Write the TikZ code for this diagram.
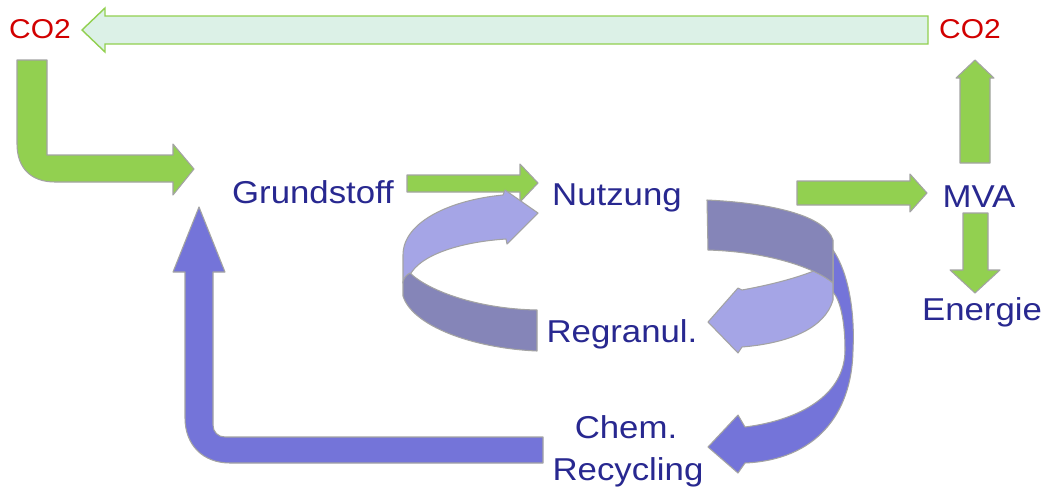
\documentclass[tikz,border=0pt]{standalone}
\usepackage{fontspec}
\setmainfont{Liberation Sans}[FakeStretch=1.1]
\definecolor{txtblue}{HTML}{282890}
\definecolor{co2red}{HTML}{D20000}
\definecolor{arrgreen}{HTML}{92D050}
\definecolor{mintfill}{HTML}{DCF1E7}
\definecolor{edgegray}{HTML}{A3A3A3}
\definecolor{bandlight}{HTML}{A5A5E6}
\definecolor{banddark}{HTML}{8585B8}
\definecolor{bandblue}{HTML}{7474D9}
\begin{document}
\begin{tikzpicture}[x=0.02cm,y=-0.02cm,
  lbl/.style={text=txtblue, font=\fontsize{18}{21}\selectfont, inner sep=0pt, anchor=base},
  co/.style={text=co2red, font=\fontsize{15.5}{19}\selectfont, inner sep=0pt, anchor=base},
  garrow/.style={fill=arrgreen, draw=edgegray, line width=0.6pt, line join=round},
  mintarrow/.style={fill=mintfill, draw=arrgreen, line width=0.8pt, line join=miter},
  lightband/.style={fill=bandlight, draw=edgegray, line width=0.6pt, line join=round},
  darkband/.style={fill=banddark, draw=edgegray, line width=0.6pt, line join=round},
  blueband/.style={fill=bandblue, draw=edgegray, line width=0.6pt, line join=round}]
\fill[white] (0,0) rectangle (1045,491);
\useasboundingbox (0,0) rectangle (1045,491);

% labels
\node[co]  (co2l) at (40,38) {CO2};
\node[co]  (co2r) at (970,38) {CO2};
\node[lbl] (grund) at (313,203) {Grundstoff};
\node[lbl] (nutz) at (617,205) {Nutzung};
\node[lbl] (mva) at (979,207) {MVA};
\node[lbl] (energie) at (982,320) {Energie};
\node[lbl] (regran) at (622,342) {Regranul.};
\node[lbl] (chem) at (626,438) {Chem.};
\node[lbl] (recyc) at (628,480) {Recycling};

% top CO2 return arrow
\draw[mintarrow] (82,30) -- (105,8) -- (105,16) -- (928,16) -- (928,44) -- (105,44) -- (105,52) -- cycle;

% CO2 -> Grundstoff
\draw[garrow] (17,60) -- (47,60) -- (47,155) -- (173,155) -- (173,144) -- (194,169) -- (173,195) -- (173,182) -- (55,182) .. controls (31,182) and (17,168) .. (17,144) -- cycle;

% Grundstoff -> Nutzung
\draw[garrow] (407,175) -- (520,175) -- (520,164) -- (538,183) -- (520,202) -- (520,192) -- (407,192) -- cycle;

% Nutzung -> MVA
\draw[garrow] (797,181) -- (910,181) -- (910,174) -- (927,193) -- (910,212) -- (910,205) -- (797,205) -- cycle;

% MVA -> CO2
\draw[garrow] (960,163) -- (960,78) -- (956,78) -- (975,60) -- (994,78) -- (990,78) -- (990,163) -- cycle;

% MVA -> Energie
\draw[garrow] (963,213) -- (988,213) -- (988,270) -- (1000,270) -- (975,293) -- (950,270) -- (963,270) -- cycle;

% Chem. Recycling -> Grundstoff
\draw[blueband] (543,437) -- (543,463) -- (230,463) .. controls (203,463) and (185,445) .. (185,418) -- (185,272) -- (173,272) -- (199,207) -- (225,272) -- (213,272) -- (213,425) .. controls (213,432) and (218,437) .. (225,437) -- cycle;

% Regranul. loop (back part, then front part)
\draw[lightband] (403,283) -- (403,255) .. controls (403,222) and (450,200) .. (503,195) -- (505,190) -- (538,213) -- (507,244) -- (506,239) .. controls (460,242) and (420,255) .. (410,275) -- cycle;
\draw[darkband] (410,273) .. controls (430,292) and (480,309) .. (537,310) -- (537,351) .. controls (470,348) and (412,325) .. (403,296) -- (403,282) .. controls (404,278) and (406,275) .. (410,273) -- cycle;

% right spiral from Nutzung
\draw[blueband] (833,250) .. controls (848,272) and (855,310) .. (853,350) .. controls (852,415) and (815,460) .. (745,463) -- (738,473) -- (708,447) -- (738,415) -- (745,427) .. controls (800,420) and (845,395) .. (845,350) .. controls (845,320) and (840,300) .. (833,292) -- cycle;
\draw[lightband] (742,290) .. controls (775,284) and (810,275) .. (833,262) -- (833,300) .. controls (825,328) and (790,343) .. (742,347) -- (738,353) -- (708,322) -- (738,288) -- cycle;
\draw[darkband] (707,200) .. controls (770,203) and (825,215) .. (833,240) -- (833,283) .. controls (815,268) and (770,252) .. (708,250) -- cycle;
\end{tikzpicture}
\end{document}
